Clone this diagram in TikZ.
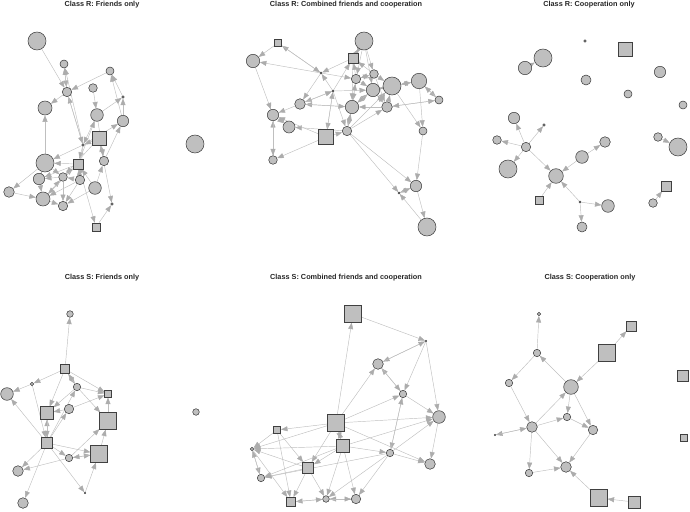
\documentclass[tikz,border=0pt]{standalone}
\usepackage{fontspec}
\setmainfont{Liberation Sans}
\usepackage{tikz}
\usetikzlibrary{arrows.meta,backgrounds,positioning}

\begin{document}
\begin{tikzpicture}[x=1pt,y=-1pt,
    vtx/.style={circle,draw=black!75,line width=0.55pt,fill=gray!50,inner sep=0pt},
    sqv/.style={rectangle,draw=black!75,line width=0.55pt,fill=gray!50,inner sep=0pt},
    edge/.style={draw=gray!50,line width=0.45pt,-{Triangle[length=6.5pt,width=5pt,color=gray!65]}},
    paneltitle/.style={font=\fontsize{7.3}{8}\selectfont\bfseries,text=black!85,inner sep=0pt}]
\useasboundingbox (0,0) rectangle (690,511);

% Titles
\node[paneltitle] (t1) at (102,5) {Class R: Friends only};
\node[paneltitle] (t2) at (346,5) {Class R: Combined friends and cooperation};
\node[paneltitle] (t3) at (589,5) {Class R: Cooperation only};
\node[paneltitle] (t4) at (102,278) {Class S: Friends only};
\node[paneltitle] (t5) at (346,278) {Class S: Combined friends and cooperation};
\node[paneltitle] (t6) at (590,278) {Class S: Cooperation only};

% Class R, friends only
\foreach \n/\x/\y/\d in {A1/37/41/18pt,A2/64/64/8pt,A3/110/71/8pt,A4/67/92/9.4pt,A5/93/88/8.6pt,
    A6/123/97/2.6pt,A7/45/108/14pt,A8/97/115/12.6pt,A9/123/121/11.4pt,A11/83/145/2.6pt,
    A12/45/163/18pt,A14/104/161/9.4pt,A15/39/179/11.4pt,A16/63/177/8.6pt,A17/80/180/9.4pt,
    A18/95/188/12.6pt,A19/9/192/10.6pt,A20/43/199/14pt,A21/63/206/9.4pt,A22/112/204/2.6pt,
    A24/195/144/18pt}
    \node[vtx,minimum size=\d] (\n) at (\x,\y) {};
\foreach \n/\x/\y/\d in {A10/99/138/14pt,A13/78/164/10pt,A23/96/227/8pt}
    \node[sqv,minimum size=\d] (\n) at (\x,\y) {};

% Class R, combined
\foreach \n/\x/\y/\d in {B2/253/61/13.4pt,B3/364/41/18pt,B5/321/73/2pt,B6/356/79/9.4pt,
    B7/374/74/8.6pt,B8/373/90/13.4pt,B9/392/86/18pt,B10/419/81/15.4pt,B11/333/91/2pt,
    B12/439/100/8pt,B13/300/104/10.6pt,B14/352/107/13.4pt,B15/387/107/10.6pt,B16/273/115/11.4pt,
    B17/289/127/12pt,B19/347/131/9.4pt,B20/423/131/8pt,B21/273/160/8.6pt,B22/416/186/11.4pt,
    B23/399/193/2pt,B24/427/227/18pt}
    \node[vtx,minimum size=\d] (\n) at (\x,\y) {};
\foreach \n/\x/\y/\d in {B1/278/43/7.4pt,B4/353/58/10pt,B18/326/137/14.6pt}
    \node[sqv,minimum size=\d] (\n) at (\x,\y) {};

% Class R, cooperation only
\foreach \n/\x/\y/\d in {C1/585/41/2.6pt,C3/543/58/18pt,C4/525/68/13.4pt,C5/660/72/11.4pt,
    C6/586/80/10pt,C7/628/94/8pt,C8/683/105/8pt,C9/514/118/11.4pt,C10/544/125/2.6pt,
    C11/497/140/8.6pt,C12/526/147/9.4pt,C13/605/142/10.6pt,C14/658/137/8.6pt,C15/678/147/18pt,
    C16/582/157/12.6pt,C17/508/169/18pt,C18/556/176/14.6pt,C21/580/202/2pt,C22/608/206/12.6pt,
    C23/653/203/8.6pt,C24/582/227/10pt}
    \node[vtx,minimum size=\d] (\n) at (\x,\y) {};
\foreach \n/\x/\y/\d in {C2/625/49/14pt,C19/666/186/10pt,C20/539/200/8pt}
    \node[sqv,minimum size=\d] (\n) at (\x,\y) {};

% Class S, friends only
\foreach \n/\x/\y/\d in {D1/70/314/6.6pt,D3/32/384/3.4pt,D4/77/387/7.4pt,D5/7/394/12.6pt,
    D7/69/409/9.4pt,D11/69/458/7.4pt,D13/18/471/10.6pt,D14/85/493/1.6pt,D15/23/503/10.6pt,
    D16/196/412/6.6pt}
    \node[vtx,minimum size=\d] (\n) at (\x,\y) {};
\foreach \n/\x/\y/\d in {D2/65/369/9.4pt,D6/108/394/6.6pt,D8/47/413/12.6pt,D9/108/421/16.6pt,
    D10/47/443/10.6pt,D12/99/454/16.6pt}
    \node[sqv,minimum size=\d] (\n) at (\x,\y) {};

% Class S, combined
\foreach \n/\x/\y/\d in {E2/426/341/1.6pt,E3/378/364/10.6pt,E4/403/394/7.4pt,E5/439/417/12.6pt,
    E9/252/449/3.4pt,E10/390/453/7.4pt,E11/430/464/10.6pt,E13/261/478/7.4pt,E15/326/499/6.6pt,
    E16/356/499/9.4pt}
    \node[vtx,minimum size=\d] (\n) at (\x,\y) {};
\foreach \n/\x/\y/\d in {E1/353/314/16.6pt,E6/336/423/16.6pt,E7/277/430/7.4pt,E8/343/446/13.4pt,
    E12/308/468/11.4pt,E14/291/502/9.4pt}
    \node[sqv,minimum size=\d] (\n) at (\x,\y) {};

% Class S, cooperation only
\foreach \n/\x/\y/\d in {F1/539/314/3.4pt,F3/537/353/7.4pt,F6/509/383/7.4pt,F7/571/387/14.6pt,
    F8/567/417/7.4pt,F9/532/427/10.6pt,F10/495/435/1.4pt,F11/593/430/9.4pt,F13/566/467/10.6pt,
    F14/529/473/7.4pt}
    \node[vtx,minimum size=\d] (\n) at (\x,\y) {};
\foreach \n/\x/\y/\d in {F2/631/326/10pt,F4/607/353/16.6pt,F5/683/376/10.6pt,F12/684/438/7.4pt,
    F15/599/498/16.6pt,F16/634/502/12pt}
    \node[sqv,minimum size=\d] (\n) at (\x,\y) {};

% Ties
\begin{scope}[on background layer]
\foreach \a/\b in {A1/A4,A2/A4,A4/A2,A3/A4,A4/A7,A9/A3,A6/A3,A9/A6,A8/A6,A5/A8,A11/A4,A11/A2,
    A8/A11,A11/A9,A10/A11,A12/A7,A14/A9,A14/A10,A13/A12,A15/A12,A13/A15,A17/A13,A18/A13,
    A18/A14,A16/A15,A17/A16,A12/A19,A19/A20,A15/A20,A16/A21,A20/A21,A18/A21,A17/A21,A13/A23,
    A23/A22,A10/A22,A11/A13,A16/A13,A20/A16,A12/A16,A8/A14,A13/A8,A11/A12,A13/A20,A17/A20,
    A11/A17,A10/A16,A4/A11}
    \draw[edge] (\a) -- (\b);
\foreach \a/\b in {B1/B2,B5/B1,B2/B16,B5/B2,B4/B5,B11/B5,B11/B13,B11/B18,B11/B4,B3/B6,B3/B7,
    B3/B8,B6/B4,B7/B4,B8/B9,B9/B8,B9/B10,B10/B9,B10/B12,B12/B10,B10/B20,B15/B12,B14/B13,
    B15/B14,B19/B15,B13/B16,B16/B17,B19/B17,B18/B16,B18/B21,B21/B16,B16/B21,B14/B19,B19/B14,
    B11/B19,B19/B23,B19/B22,B20/B22,B22/B23,B23/B22,B22/B24,B24/B23,B9/B20,B15/B9,B6/B8,
    B7/B9,B5/B6,B14/B8,B8/B14,B19/B9,B6/B14,B14/B6,B7/B15,B13/B14,B4/B3,B3/B4,B8/B15,B15/B8,
    B11/B8,B1/B5,B5/B13,B13/B11,B18/B11,B4/B14,B12/B15,B6/B7,B7/B6,B18/B19}
    \draw[edge] (\a) -- (\b);
\foreach \a/\b in {C4/C3,C12/C9,C12/C10,C12/C11,C12/C17,C12/C18,C16/C18,C16/C13,C20/C18,
    C21/C18,C21/C22,C21/C24,C14/C15,C23/C19}
    \draw[edge] (\a) -- (\b);
\foreach \a/\b in {D2/D1,D2/D3,D2/D4,D4/D2,D2/D6,D2/D8,D3/D5,D4/D8,D4/D6,D4/D9,D7/D8,D7/D6,
    D10/D8,D8/D10,D10/D7,D10/D4,D10/D13,D10/D15,D10/D11,D10/D12,D10/D14,D11/D12,D12/D11,
    D11/D9,D12/D9,D9/D6,D3/D10,D14/D12,D11/D13,D10/D5}
    \draw[edge] (\a) -- (\b);
\foreach \a/\b in {E1/E2,E6/E1,E2/E3,E3/E2,E2/E4,E2/E5,E4/E3,E3/E4,E4/E5,E4/E10,E10/E4,E5/E11,
    E6/E3,E6/E4,E6/E5,E6/E7,E6/E9,E6/E8,E6/E12,E6/E11,E7/E14,E7/E12,E8/E9,E8/E10,E8/E16,
    E8/E15,E8/E12,E8/E13,E10/E5,E10/E11,E10/E13,E10/E15,E12/E13,E12/E14,E12/E15,E9/E13,
    E13/E9,E15/E14,E14/E15,E16/E15,E15/E16,E9/E14,E7/E9,E12/E9,E10/E16,E8/E6,E8/E5}
    \draw[edge] (\a) -- (\b);
\foreach \a/\b in {F3/F1,F7/F3,F3/F6,F6/F9,F9/F7,F7/F8,F7/F11,F9/F8,F8/F11,F9/F13,F9/F14,
    F14/F13,F11/F13,F15/F13,F16/F15,F4/F7,F4/F2,F9/F10,F10/F9}
    \draw[edge] (\a) -- (\b);
\end{scope}
\end{tikzpicture}
\end{document}
